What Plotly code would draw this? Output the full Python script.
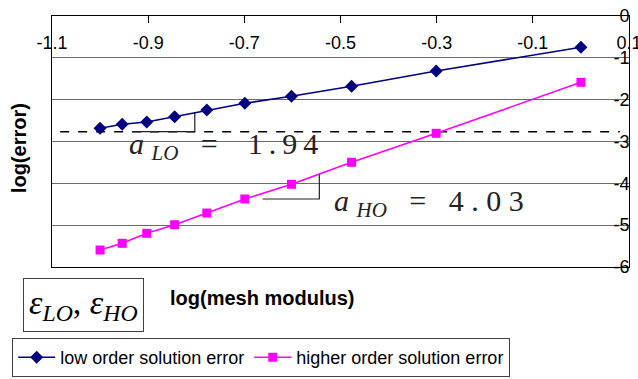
import plotly.graph_objects as go

# log10 of mesh modulus (h = 1/10 ... 1)
log_h = [-1.0, -0.954, -0.903, -0.845, -0.778, -0.699, -0.602, -0.477, -0.301, 0.0]
# log10 of error for the two solutions
err_lo = [-2.685, -2.589, -2.534, -2.407, -2.247, -2.087, -1.920, -1.681, -1.315, -0.748]
err_ho = [-5.594, -5.434, -5.195, -4.989, -4.710, -4.375, -4.023, -3.497, -2.804, -1.585]

x_ticks = [-1.1, -0.9, -0.7, -0.5, -0.3, -0.1, 0.1]
x_tick_text = ["-1.1", "-0.9", "-0.7", "-0.5", "-0.3", "-0.1", "0.1"]
y_ticks = [0, -1, -2, -3, -4, -5, -6]
y_tick_text = ["0", "-1", "-2", "-3", "-4", "-5", "-6"]

# reference level and slope triangles
ref_x = [-1.083, 0.081]
ref_y = [-2.766, -2.766]
tri_lo_x = [-0.934, -0.803, -0.803]
tri_lo_y = [-2.766, -2.766, -2.306]
tri_ho_x = [-0.662, -0.544, -0.544]
tri_ho_y = [-4.375, -4.375, -3.779]

SANS = "Liberation Sans, Arial, sans-serif"
SERIF = "Liberation Serif, Times New Roman, serif"
NB = "\u00a0"
TH = "\u2009"

fig = go.Figure()

fig.add_trace(go.Scatter(x=ref_x, y=ref_y, mode="lines", showlegend=False,
                         line=dict(color="black", width=1.6, dash="dash"),
                         hoverinfo="skip"))
fig.add_trace(go.Scatter(x=tri_lo_x, y=tri_lo_y, mode="lines", showlegend=False,
                         line=dict(color="#222222", width=1.2), hoverinfo="skip"))
fig.add_trace(go.Scatter(x=tri_ho_x, y=tri_ho_y, mode="lines", showlegend=False,
                         line=dict(color="#222222", width=1.2), hoverinfo="skip"))

fig.add_trace(go.Scatter(x=log_h, y=err_lo, mode="lines+markers",
                         name="low order solution error",
                         line=dict(color="#000080", width=1.6),
                         marker=dict(symbol="diamond", size=10, color="#000080")))
fig.add_trace(go.Scatter(x=log_h, y=err_ho, mode="lines+markers",
                         name="higher order solution error",
                         line=dict(color="#FF00FF", width=1.6),
                         marker=dict(symbol="square", size=9, color="#FF00FF")))

fig.update_layout(
    width=638, height=379,
    margin=dict(l=52, r=9, t=16, b=112, autoexpand=False),
    paper_bgcolor="white", plot_bgcolor="white",
    font=dict(family=SANS, size=18, color="black"),
    showlegend=True,
    legend=dict(orientation="h", x=-0.069, y=-0.283, xanchor="left", yanchor="top",
                bordercolor="#404040", borderwidth=1, bgcolor="white",
                font=dict(family=SANS, size=18, color="black"),
                itemwidth=37, tracegroupgap=0),
    xaxis=dict(range=[-1.1, 0.1], side="top", tickmode="array",
               tickvals=x_ticks, ticktext=x_tick_text,
               ticks="inside", ticklen=7, tickcolor="black",
               ticklabelposition="inside", ticklabeloverflow="allow",
               ticklabelstandoff=14, automargin=False,
               showgrid=False, zeroline=False,
               showline=True, linecolor="black", linewidth=1, mirror=True,
               tickfont=dict(family=SANS, size=18, color="black")),
    yaxis=dict(range=[-6, 0], side="right", tickmode="array",
               tickvals=y_ticks, ticktext=y_tick_text,
               ticks="", ticklabelposition="inside", ticklabeloverflow="allow",
               automargin=False,
               showgrid=True, gridcolor="#6a6a6a", gridwidth=1, zeroline=False,
               showline=True, linecolor="black", linewidth=1, mirror=True,
               tickfont=dict(family=SANS, size=18, color="black")),
)

# slope labels
fig.add_annotation(x=-0.944, y=-3.11, xref="x", yref="y", xanchor="left", yanchor="middle",
                   showarrow=False,
                   text=f"<i>a</i>{NB}<sub><i>LO</i></sub>{NB}{NB}{NB}={NB}{NB}{NB}{NB}1{TH}.{TH}9{TH}4",
                   font=dict(family=SERIF, size=30, color="#222222"))
fig.add_annotation(x=-0.518, y=-4.47, xref="x", yref="y", xanchor="left", yanchor="middle",
                   showarrow=False,
                   text=f"<i>a</i>{NB}<sub><i>HO</i></sub>{NB}{NB}{NB}={NB}{NB}{NB}4{NB}.{NB}0{NB}3",
                   font=dict(family=SERIF, size=30, color="#222222"))

# error symbols box
fig.add_annotation(x=0.055, y=-0.151, xref="paper", yref="paper", xanchor="center", yanchor="middle",
                   showarrow=False,
                   text="<i>ε</i><sub><i>LO</i></sub>, <i>ε</i><sub><i>HO</i></sub>",
                   font=dict(family=SERIF, size=34, color="black"),
                   bordercolor="#404040", borderwidth=1, borderpad=5, bgcolor="white")

# axis titles
fig.add_annotation(x=0.364, y=-0.124, xref="paper", yref="paper", xanchor="center", yanchor="middle",
                   showarrow=False, text="<b>log(mesh modulus)</b>",
                   font=dict(family=SANS, size=20, color="black"))
fig.add_annotation(x=-0.057, y=0.474, xref="paper", yref="paper", xanchor="center", yanchor="middle",
                   showarrow=False, text="<b>log(error)</b>", textangle=-90,
                   font=dict(family=SANS, size=20, color="black"))

fig.write_html("out.html")
